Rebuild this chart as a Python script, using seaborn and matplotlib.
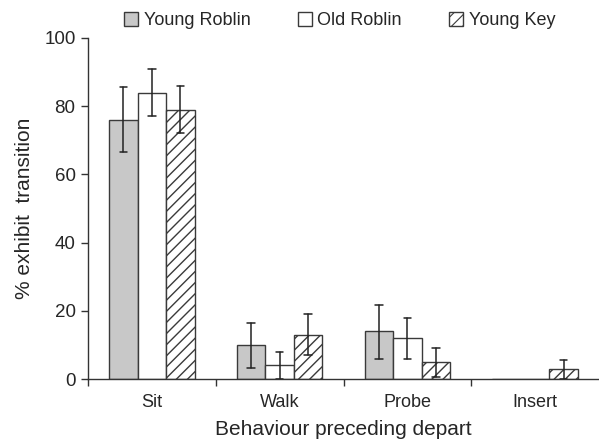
import matplotlib
matplotlib.use("Agg")
import matplotlib.pyplot as plt
import seaborn as sns
import pandas as pd
import numpy as np

categories = ["Sit", "Walk", "Probe", "Insert"]
groups = ["Young Roblin", "Old Roblin", "Young Key"]
young_roblin = [76, 10, 14, 0]
old_roblin = [84, 4, 12, 0]
young_key = [79, 13, 5, 3]
young_roblin_lo = [66.5, 3.3, 6.0, 0]
young_roblin_hi = [85.5, 16.4, 21.8, 0]
old_roblin_lo = [77, 0, 5.8, 0]
old_roblin_hi = [91, 8, 18, 0]
young_key_lo = [72, 7, 0.6, 0]
young_key_hi = [86, 19, 9, 5.5]

sns.set_theme(style="white")
plt.rcParams['font.family'] = ['Liberation Sans', 'DejaVu Sans']

rows = []
vals = [young_roblin, old_roblin, young_key]
for g, v in zip(groups, vals):
    for c, y in zip(categories, v):
        rows.append({"Behaviour": c, "Group": g, "Value": y})
df = pd.DataFrame(rows)

fig = plt.figure(figsize=(5.99, 4.44), dpi=100)
ax = fig.add_axes([88/599, 65/444, (599-88)/599, (379-38)/444])

face = {"Young Roblin": "#c8c8c8", "Old Roblin": "white", "Young Key": "white"}
sns.barplot(data=df, x="Behaviour", y="Value", hue="Group", order=categories,
            hue_order=groups, palette=face, width=0.67, errorbar=None,
            edgecolor="#3a3a3a", linewidth=1.0, ax=ax, saturation=1)

plt.rcParams['hatch.linewidth'] = 0.8
plt.rcParams['hatch.color'] = '#3a3a3a'
nc = len(categories)
los = [young_roblin_lo, old_roblin_lo, young_key_lo]
his = [young_roblin_hi, old_roblin_hi, young_key_hi]
bars = [p for p in ax.patches][:nc * len(groups)]
for gi, g in enumerate(groups):
    for ci in range(nc):
        p = bars[gi * nc + ci]
        if g == "Young Key":
            p.set_hatch("///")
        x = p.get_x() + p.get_width() / 2
        lo, hi = los[gi][ci], his[gi][ci]
        if hi > 0:
            ax.plot([x, x], [lo, hi], color="#222222", lw=1.1, zorder=5)
            for yy in (lo, hi):
                ax.plot([x - 0.03, x + 0.03], [yy, yy], color="#222222", lw=1.1, zorder=5)

ax.set_xlim(-0.5, 3.5)
ax.set_ylim(0, 100)
ax.set_yticks([0, 20, 40, 60, 80, 100])
ax.set_xticks(np.arange(nc))
ax.set_xticklabels(categories)
ax.set_xticks(np.arange(nc) - 0.5, minor=True)
ax.tick_params(axis="x", which="major", length=0, pad=11, labelsize=13)
ax.tick_params(axis="x", which="minor", direction="out", length=5, width=1, color="#333333", bottom=True)
ax.tick_params(axis="y", direction="out", length=5, width=1, color="#333333", left=True, labelsize=13.5, pad=4)
for s in ["top", "right"]:
    ax.spines[s].set_visible(False)
for s in ["left", "bottom"]:
    ax.spines[s].set_color("#333333")
    ax.spines[s].set_linewidth(1.0)

ax.set_xlabel("Behaviour preceding depart", fontsize=15, labelpad=6)
ax.set_ylabel("% exhibit  transition", fontsize=15, labelpad=7)

leg = ax.get_legend()
handles = leg.legend_handles
leg.remove()
for h, g in zip(handles, groups):
    h.set_edgecolor("#3a3a3a")
    if g == "Young Key":
        h.set_hatch("///")
fig.legend(handles, groups, loc="upper center", bbox_to_anchor=(0.567, 1.01), ncol=3,
           frameon=False, fontsize=13, handlelength=0.8, handleheight=0.8,
           handletextpad=0.3, columnspacing=2.6)

fig.savefig("out.png", dpi=100)
